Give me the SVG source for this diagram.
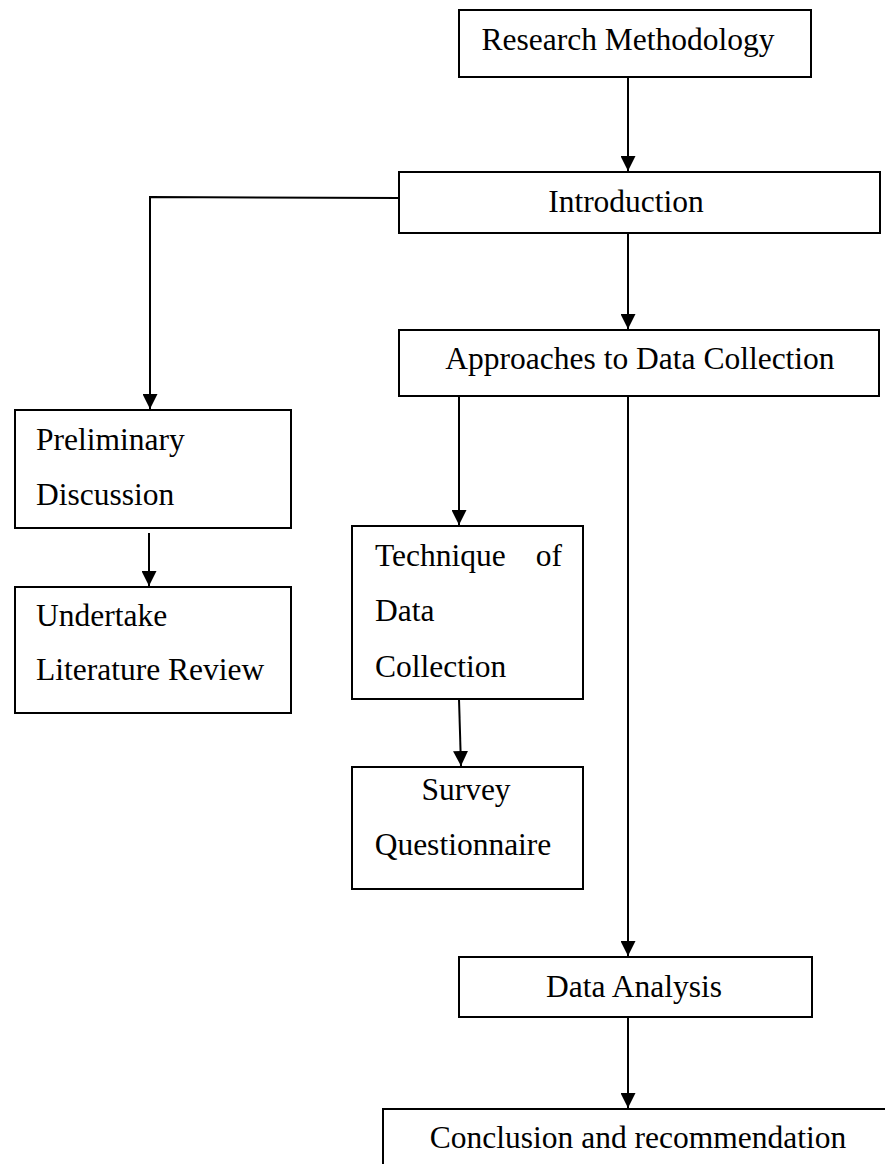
<svg xmlns="http://www.w3.org/2000/svg" width="885" height="1164" viewBox="0 0 885 1164">
<style>
.box{fill:#fff;stroke:#000;stroke-width:2}
.t{font-family:"Liberation Serif","Times New Roman",serif;font-size:31.5px;fill:#000}
.c{text-anchor:middle}
.ln{fill:none;stroke:#000;stroke-width:2}
</style>
<defs>
<marker id="ah" markerWidth="15" markerHeight="15" refX="15" refY="7.5" orient="auto" markerUnits="userSpaceOnUse">
<path d="M0,0 L15,7.5 L0,15 Z" fill="#000"/>
</marker>
</defs>
<g id="connectors">
<line class="ln" x1="628" y1="77" x2="628" y2="171" marker-end="url(#ah)"/>
<polyline class="ln" points="399,198 150,197 150,409" marker-end="url(#ah)"/>
<line class="ln" x1="628" y1="233" x2="628" y2="329" marker-end="url(#ah)"/>
<line class="ln" x1="149" y1="533" x2="149" y2="586" marker-end="url(#ah)"/>
<line class="ln" x1="459" y1="396" x2="459" y2="525" marker-end="url(#ah)"/>
<line class="ln" x1="459" y1="699" x2="461" y2="766" marker-end="url(#ah)"/>
<line class="ln" x1="628" y1="396" x2="628" y2="956" marker-end="url(#ah)"/>
<line class="ln" x1="628" y1="1017" x2="628" y2="1108" marker-end="url(#ah)"/>
</g>
<g id="research-methodology">
<rect class="box" x="459" y="10" width="352" height="67"/>
<text class="t c" x="628" y="50">Research Methodology</text>
</g>
<g id="introduction">
<rect class="box" x="399" y="172" width="481" height="61"/>
<text class="t c" x="626" y="212">Introduction</text>
</g>
<g id="approaches">
<rect class="box" x="399" y="330" width="480" height="66"/>
<text class="t c" x="640" y="369">Approaches to Data Collection</text>
</g>
<g id="preliminary-discussion">
<rect class="box" x="15" y="410" width="276" height="118"/>
<text class="t" x="36" y="450">Preliminary</text>
<text class="t" x="36" y="505">Discussion</text>
</g>
<g id="literature-review">
<rect class="box" x="15" y="587" width="276" height="126"/>
<text class="t" x="36" y="626">Undertake</text>
<text class="t" x="36" y="680">Literature Review</text>
</g>
<g id="technique">
<rect class="box" x="352" y="526" width="231" height="173"/>
<text class="t" x="375" y="566">Technique</text>
<text class="t" x="562" y="566" text-anchor="end">of</text>
<text class="t" x="375" y="621">Data</text>
<text class="t" x="375" y="677">Collection</text>
</g>
<g id="survey">
<rect class="box" x="352" y="767" width="231" height="122"/>
<text class="t c" x="466" y="800">Survey</text>
<text class="t c" x="463" y="855">Questionnaire</text>
</g>
<g id="data-analysis">
<rect class="box" x="459" y="957" width="353" height="60"/>
<text class="t c" x="634" y="997">Data Analysis</text>
</g>
<g id="conclusion">
<rect class="box" x="383" y="1109" width="560" height="100"/>
<text class="t c" x="638" y="1148">Conclusion and recommendation</text>
</g>
</svg>
